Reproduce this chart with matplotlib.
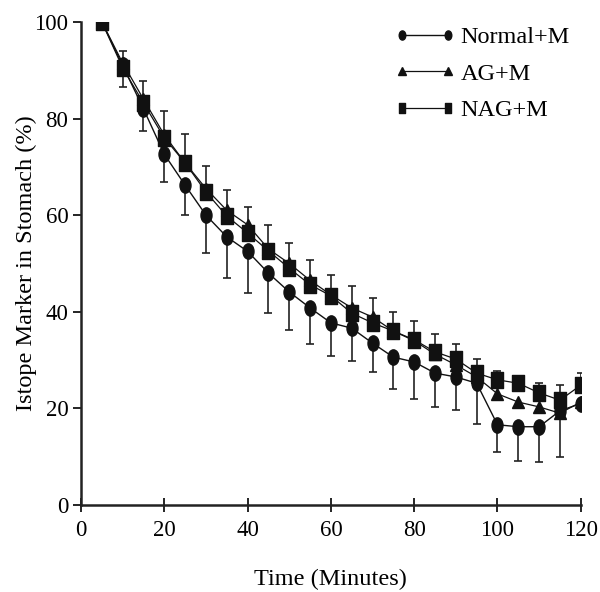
import matplotlib
matplotlib.use("Agg")
import matplotlib.pyplot as plt
from matplotlib.path import Path
from matplotlib.transforms import Affine2D
import numpy as np

plt.rcParams['font.family'] = ['Liberation Serif', 'DejaVu Serif']

time = [5, 10, 15, 20, 25, 30, 35, 40, 45, 50, 55, 60, 65, 70, 75, 80,
        85, 90, 95, 100, 105, 110, 115, 120]
normal = [100, 91, 82, 72.6, 66.2, 60, 55.5, 52.5, 48, 44.1, 40.8, 37.7,
          36.6, 33.5, 30.6, 29.6, 27.3, 26.5, 25.2, 16.6, 16.2, 16.2, 19.5, 21]
normal_err = [0, 4.5, 4.6, 5.7, 6.2, 7.8, 8.5, 8.6, 8.3, 7.9, 7.5, 6.9,
              6.8, 6.0, 6.6, 7.6, 7.0, 6.8, 8.4, 5.6, 7.1, 7.3, 9.6, 0]
ag = [100, 91.5, 84, 76.6, 70.8, 65.5, 61, 58, 53, 50, 46.5, 43.5,
      40.8, 38.9, 36, 34, 31.2, 29, 26.5, 23, 21.3, 20.3, 19, 21.3]
nag = [100, 90.5, 83.2, 76, 70.8, 64.8, 59.8, 56.3, 52.6, 49, 45.6, 43.3,
       39.7, 37.7, 36, 34.2, 31.7, 30.2, 27.3, 25.9, 25.2, 23.2, 21.7, 24.8]
nag_err = [0, 3.5, 4.6, 5.6, 6.0, 5.4, 5.4, 5.4, 5.4, 5.2, 5.1, 4.3,
           5.6, 5.2, 4.0, 3.9, 3.7, 3.1, 2.9, 1.8, 0, 2.1, 3.1, 2.5]
labels = ["Normal+M", "AG+M", "NAG+M"]
xticks = [0, 20, 40, 60, 80, 100, 120]
yticks = [0, 20, 40, 60, 80, 100]

ellipse = Path.unit_circle().transformed(Affine2D().scale(0.72, 1.0))
rect = Path([(-0.38, -0.5), (0.38, -0.5), (0.38, 0.5), (-0.38, 0.5), (-0.38, -0.5)],
            [Path.MOVETO, Path.LINETO, Path.LINETO, Path.LINETO, Path.CLOSEPOLY])

fig = plt.figure(figsize=(6.0, 5.92), dpi=100)
ax = fig.add_axes([0.135, 0.147, 0.833, 0.816])

t = np.array(time)
z = np.zeros(len(time))
ax.errorbar(t, normal, yerr=[normal_err, z], fmt='none', ecolor='#222222',
            elinewidth=1.2, capsize=3, capthick=1.2, zorder=2)
ax.errorbar(t, nag, yerr=[z, nag_err], fmt='none', ecolor='#222222',
            elinewidth=1.2, capsize=3, capthick=1.2, zorder=2)

ax.plot(t, normal, color='#111111', lw=1.0, marker=ellipse, ms=11,
        mfc='#111111', mec='#111111', label=labels[0], zorder=3)
ax.plot(t, ag, color='#111111', lw=0.9, marker='^', ms=9,
        mfc='#111111', mec='#111111', label=labels[1], zorder=3)
ax.plot(t, nag, color='#111111', lw=0.9, marker=rect, ms=11,
        mfc='#111111', mec='#111111', label=labels[2], zorder=4)

ax.set_xlim(0, 120)
ax.set_ylim(0, 100)
ax.set_xticks(xticks)
ax.set_yticks(yticks)
for s in ['top', 'right']:
    ax.spines[s].set_visible(False)
for s in ['left', 'bottom']:
    ax.spines[s].set_linewidth(1.8)
    ax.spines[s].set_color('#222222')
ax.tick_params(axis='y', direction='out', length=6, width=1.2, labelsize=16.5, pad=3)
ax.tick_params(axis='x', direction='inout', length=10, width=1.2, labelsize=16.5, pad=6)
ax.set_xlabel("Time (Minutes)", fontsize=17.5, labelpad=20)
ax.set_ylabel("Istope Marker in Stomach (%)", fontsize=17.5, labelpad=-2)

leg = ax.legend(loc='upper left', bbox_to_anchor=(395 / 600, 1 - 26 / 592),
                bbox_transform=fig.transFigure, frameon=False,
                numpoints=2, markerscale=0.6, fontsize=17.5, handlelength=2.5,
                handletextpad=0.2, labelspacing=0.6, borderpad=0,
                borderaxespad=0)

fig.savefig("out.png", dpi=100)
